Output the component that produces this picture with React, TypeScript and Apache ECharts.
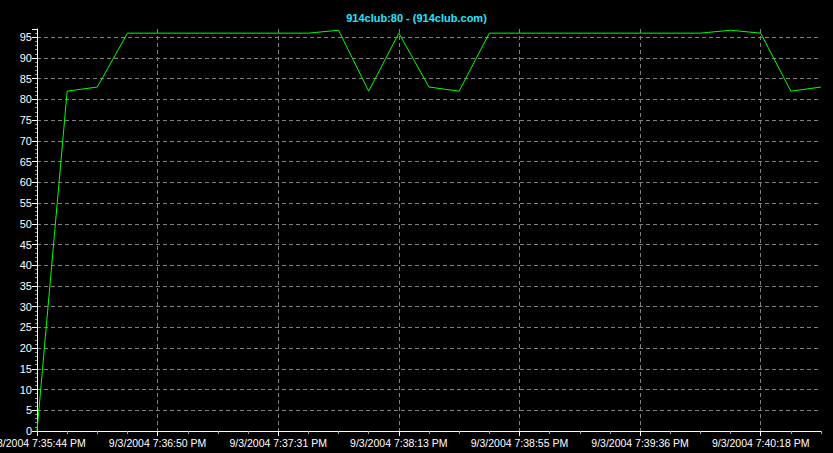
import React, { useEffect, useRef } from "react";
import * as echarts from "echarts";

const titleText = "914club:80 - (914club.com)";

const times: string[] = [
  "7:35:44", "7:36:01", "7:36:18", "7:36:34", "7:36:50", "7:37:00", "7:37:10",
  "7:37:21", "7:37:31", "7:37:41", "7:37:52", "7:38:02", "7:38:13", "7:38:23",
  "7:38:34", "7:38:44", "7:38:55", "7:39:05", "7:39:15", "7:39:26", "7:39:36",
  "7:39:46", "7:39:57", "7:40:07", "7:40:18", "7:40:28", "7:40:39",
];
const datePrefix = "9/3/2004";
const categories: string[] = times.map((t) => `${datePrefix} ${t} PM`);

const values: number[] = [
  0, 82, 83, 96, 96, 96, 96, 96, 96, 96, 96.7, 82, 96, 83, 82, 96, 96, 96, 96,
  96, 96, 96, 96, 96.7, 96, 82, 83,
];

const yMin = 0;
const yMax = 97;
const yInterval = 5;

export default function App() {
  const ref = useRef<HTMLDivElement>(null);

  useEffect(() => {
    document.body.style.margin = "0";
    document.body.style.background = "#000";
    if (!ref.current) return;
    const chart = echarts.init(ref.current, undefined, { renderer: "svg" });
    const font = "'Liberation Sans', Arial, sans-serif";
    const grid = "#808080";
    chart.setOption({
      animation: false,
      backgroundColor: "#000000",
      textStyle: { fontFamily: font },
      title: {
        text: titleText,
        left: "center",
        top: 12,
        padding: 0,
        textStyle: {
          color: "#22e6ff",
          fontSize: 11,
          fontWeight: "bold",
          fontFamily: font,
        },
      },
      grid: {
        left: 37,
        right: 12,
        top: 29,
        bottom: 22,
        containLabel: false,
        outerBoundsMode: "none",
      },
      xAxis: [
        {
          type: "category",
          data: categories,
          boundaryGap: false,
          axisLine: { show: true, lineStyle: { color: "#ffffff", width: 1 } },
          axisTick: {
            show: true,
            interval: 0,
            length: 3,
            lineStyle: { color: "#a0a0a0" },
          },
          axisLabel: {
            interval: 3,
            color: "#ffffff",
            fontSize: 10.5,
            fontFamily: font,
            margin: 6,
          },
          splitLine: {
            show: true,
            interval: 3,
            showMinLine: false,
            lineStyle: { color: grid, type: [4, 3], width: 1 },
          },
        },
        {
          type: "category",
          data: categories,
          boundaryGap: false,
          position: "bottom",
          axisLine: { show: false },
          axisTick: {
            show: true,
            interval: 3,
            length: 5,
            lineStyle: { color: "#ffffff" },
          },
          axisLabel: { show: false },
          splitLine: { show: false },
        },
      ],
      yAxis: {
        type: "value",
        min: yMin,
        max: yMax,
        interval: yInterval,
        axisLine: { show: true, lineStyle: { color: "#ffffff", width: 1 } },
        axisTick: { show: true, length: 5, lineStyle: { color: "#ffffff" } },
        minorTick: {
          show: true,
          splitNumber: 5,
          length: 2,
          lineStyle: { color: "#909090" },
        },
        axisLabel: {
          color: "#ffffff",
          fontSize: 11,
          fontFamily: font,
          margin: 5,
          showMaxLabel: false,
        },
        splitLine: {
          show: true,
          showMaxLine: false,
          showMinLine: false,
          lineStyle: { color: grid, type: [4, 3], width: 1 },
        },
      },
      series: [
        {
          type: "line",
          data: values,
          xAxisIndex: 0,
          symbol: "none",
          lineStyle: { color: "#00ff00", width: 1 },
        },
      ],
    });
    return () => chart.dispose();
  }, []);

  return <div ref={ref} style={{ width: 833, height: 453 }} />;
}
